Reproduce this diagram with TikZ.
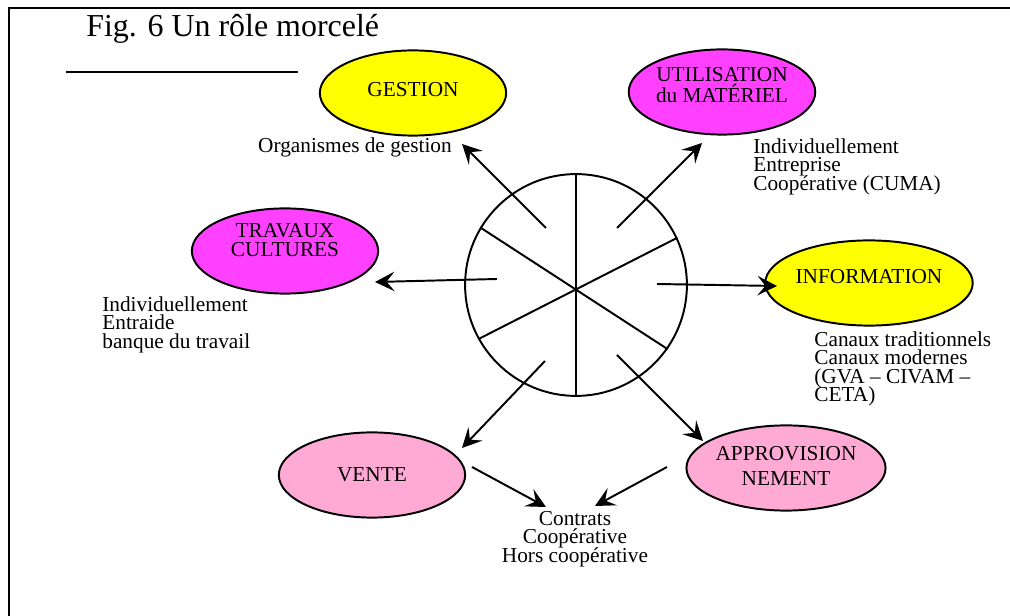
\documentclass[tikz,border=0pt]{standalone}
\usepackage{fontspec}
\setmainfont{Liberation Serif}
\usepackage{xcolor}
\usetikzlibrary{shapes.geometric, arrows.meta}

\definecolor{roleyellow}{RGB}{255,255,0}
\definecolor{rolemagenta}{RGB}{255,64,255}
\definecolor{rolepink}{RGB}{255,170,212}
\newcommand\tightlines[1]{\fontsize{12}{#1}\selectfont\lineskiplimit-20pt\relax}

\begin{document}
\begin{tikzpicture}[
        x=0.5635pt, y=-0.5635pt,
        role/.style={ellipse, draw, line width=1.1pt, minimum width=105pt, minimum height=48pt, inner sep=0pt, align=center, font={\tightlines{10.3pt}}},
        info/.style={inner sep=0pt, align=left, anchor=north west, font={\tightlines{10.4pt}}},
        spoke/.style={line width=1.1pt},
        arrow/.style={-{Stealth[length=11pt, width=11pt, inset=4.5pt]}, line width=1.1pt}
    ]
        \useasboundingbox (0,0) rectangle (1010,616);
        % frame and title
        \draw[line width=1.5pt] (9,616) -- (9,8) -- (1010,8);
        \node[anchor=base west, inner sep=0pt, font=\fontsize{18}{20}\selectfont] (title) at (86,37) {Fig. 6 Un rôle morcelé};
        \draw[line width=1.1pt] (66,72) -- (298,72);

        % wheel
        \node[circle, draw, line width=1.1pt, minimum size=125pt, inner sep=0pt] (wheel) at (576,285) {};
        \draw[spoke] (wheel.90) -- (wheel.-90);
        \draw[spoke] (wheel.149) -- (wheel.-35);
        \draw[spoke] (wheel.25) -- (wheel.-151);

        % roles
        \node[role, fill=roleyellow, text depth=4pt] (gestion) at (413,93) {GESTION};
        \node[role, fill=rolemagenta, font={\tightlines{12.2pt}}, text depth=8pt] (materiel) at (722,92) {UTILISATION\\du MATÉRIEL};
        \node[role, fill=rolemagenta, text depth=12.4pt] (travaux) at (285,251) {TRAVAUX\\CULTURES};
        \node[role, fill=roleyellow, text depth=7.3pt] (information) at (869,283) {INFORMATION};
        \node[role, fill=rolepink] (vente) at (372,475) {VENTE};
        \node[role, fill=rolepink, font={\tightlines{14pt}}, text depth=2.2pt] (appro) at (786,468) {APPROVISION\\NEMENT};

        % texts
        \node[info, anchor=north] (orgs) at (355,137) {Organismes de gestion};
        \node[info] (materiel-txt) at (753,138) {Individuellement\\Entreprise\\Coopérative (CUMA)};
        \node[info] (travaux-txt) at (102,296) {Individuellement\\Entraide\\banque du travail};
        \node[info] (information-txt) at (814,331) {Canaux traditionnels\\Canaux modernes\\(GVA – CIVAM –\\CETA)};
        \node[info, anchor=north, align=center] (vente-txt) at (575,511) {Contrats\\Coopérative\\Hors coopérative};

        % arrows
        \coordinate (gestion-from) at (546,228);
        \coordinate (gestion-to) at (462,144);
        \coordinate (materiel-from) at (617,228);
        \coordinate (materiel-to) at (702,143);
        \coordinate (travaux-from) at (497,279);
        \coordinate (travaux-to) at (375,282);
        \coordinate (information-from) at (657,284);
        \coordinate (information-to) at (777,286);
        \coordinate (vente-from) at (545,361);
        \coordinate (vente-to) at (462,448);
        \coordinate (appro-from) at (617,355);
        \coordinate (appro-to) at (703,441);
        \coordinate (vente-out) at (472,467);
        \coordinate (vente-in) at (546,507);
        \coordinate (appro-out) at (667,467);
        \coordinate (appro-in) at (595,506);
        \draw[arrow] (gestion-from) -- (gestion-to);
        \draw[arrow] (materiel-from) -- (materiel-to);
        \draw[arrow] (travaux-from) -- (travaux-to);
        \draw[arrow] (information-from) -- (information-to);
        \draw[arrow] (vente-from) -- (vente-to);
        \draw[arrow] (appro-from) -- (appro-to);
        \draw[arrow] (vente-out) -- (vente-in);
        \draw[arrow] (appro-out) -- (appro-in);
    \end{tikzpicture}
\end{document}
